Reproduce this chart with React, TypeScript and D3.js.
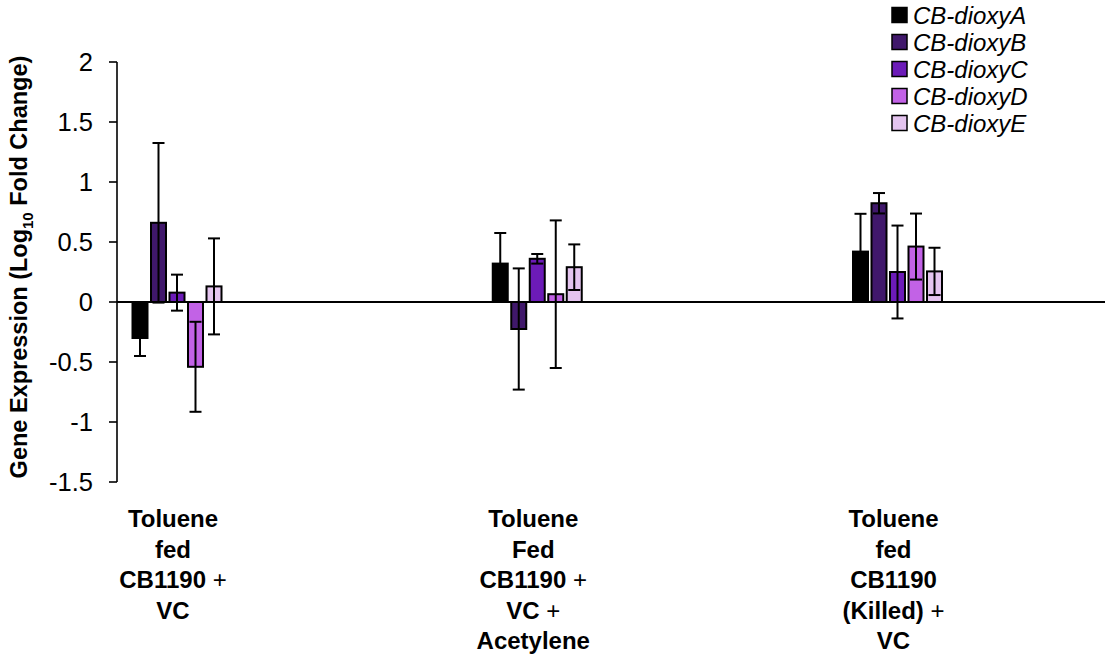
import React from "react";
import * as d3 from "d3";

const categories: string[][] = [
  ["Toluene", "fed", "CB1190 +", "VC"],
  ["Toluene", "Fed", "CB1190 +", "VC +", "Acetylene"],
  ["Toluene", "fed", "CB1190", "(Killed) +", "VC"],
];
const categoryKeys = ["g1", "g2", "g3"];
const seriesNames = ["CB-dioxyA", "CB-dioxyB", "CB-dioxyC", "CB-dioxyD", "CB-dioxyE"];
const seriesColors = ["#000000", "#40186b", "#6c1bb8", "#c262e6", "#e4c4ef"];

const valuesA = [-0.3, 0.32, 0.42];
const valuesB = [0.66, -0.225, 0.823];
const valuesC = [0.078, 0.36, 0.25];
const valuesD = [-0.54, 0.065, 0.462];
const valuesE = [0.13, 0.29, 0.255];

const errA = [0.15, 0.255, 0.315];
const errB = [0.665, 0.505, 0.085];
const errC = [0.15, 0.04, 0.387];
const errD = [0.375, 0.615, 0.275];
const errE = [0.4, 0.19, 0.197];

const yTicks = [-1.5, -1, -0.5, 0, 0.5, 1, 1.5, 2];

const allValues = [valuesA, valuesB, valuesC, valuesD, valuesE];
const allErrors = [errA, errB, errC, errD, errE];

const W = 1109;
const H = 655;
const FONT = "'Liberation Sans', Arial, sans-serif";

export default function App() {
  const y = d3.scaleLinear().domain([-1.5, 2]).range([482, 62]);
  const xg = d3.scalePoint<string>().domain(categoryKeys).range([177, 897.5]);
  const xs = d3
    .scaleBand<string>()
    .domain(seriesNames)
    .range([-46.25, 46.25])
    .paddingInner(3.5 / 18.5)
    .paddingOuter(3.5 / 37);
  const bw = xs.bandwidth();
  const axisX = 117;
  const y0 = y(0);

  return (
    <svg width={W} height={H} style={{ position: "absolute", left: 0, top: 0, background: "#fff" }}>
      <rect x={0} y={0} width={W} height={H} fill="#fff" />
      {/* y axis */}
      <line x1={axisX} x2={axisX} y1={y(2)} y2={y(-1.5)} stroke="#000" strokeWidth={1.6} />
      {yTicks.map((t) => (
        <g key={t}>
          <line x1={axisX - 8} x2={axisX} y1={y(t)} y2={y(t)} stroke="#000" strokeWidth={1.6} />
          <text
            x={93}
            y={y(t)}
            dy="0.36em"
            textAnchor="end"
            fontFamily={FONT}
            fontSize={25.5}
            fill="#000"
          >
            {String(t)}
          </text>
        </g>
      ))}
      {/* y title */}
      <text
        transform={`translate(${27},${267}) rotate(-90)`}
        textAnchor="middle"
        fontFamily={FONT}
        fontSize={23.5}
        fontWeight="bold"
        fill="#000"
      >
        Gene Expression (Log
        <tspan fontSize={15} dy={6}>10</tspan>
        <tspan dy={-6}> Fold Change)</tspan>
      </text>

      {/* bars */}
      {seriesNames.map((s, si) =>
        categoryKeys.map((c, ci) => {
          const v = allValues[si][ci];
          const xx = (xg(c) as number) + (xs(s) as number);
          const top = Math.min(y(v), y0);
          const h = Math.abs(y(v) - y0);
          return (
            <rect
              key={s + c}
              x={xx}
              y={top}
              width={bw}
              height={h}
              fill={seriesColors[si]}
              stroke="#000"
              strokeWidth={2}
            />
          );
        })
      )}
      {/* x axis line */}
      <line x1={axisX} x2={1105} y1={y0} y2={y0} stroke="#000" strokeWidth={2} />
      {/* error bars */}
      {seriesNames.map((s, si) =>
        categoryKeys.map((c, ci) => {
          const v = allValues[si][ci];
          const e = allErrors[si][ci];
          const cx = (xg(c) as number) + (xs(s) as number) + bw / 2;
          const yt = y(v + e);
          const yb = y(v - e);
          return (
            <g key={"e" + s + c} stroke="#000" strokeWidth={2}>
              <line x1={cx} x2={cx} y1={yt} y2={yb} />
              <line x1={cx - 6} x2={cx + 6} y1={yt} y2={yt} />
              <line x1={cx - 6} x2={cx + 6} y1={yb} y2={yb} />
            </g>
          );
        })
      )}
      {/* category labels */}
      {categories.map((lines, ci) => (
        <text
          key={ci}
          textAnchor="middle"
          fontFamily={FONT}
          fontSize={24}
          fontWeight="bold"
          fill="#000"
        >
          {lines.map((ln, li) => {
            const hasPlus = ln.endsWith("+");
            const main = hasPlus ? ln.slice(0, -1) : ln;
            return (
              <tspan key={li} x={(xg(categoryKeys[ci]) as number) - 4} y={527 + li * 30.6}>
                {main}
                {hasPlus ? <tspan fontWeight="normal">+</tspan> : null}
              </tspan>
            );
          })}
        </text>
      ))}
      {/* legend */}
      {seriesNames.map((s, si) => (
        <g key={"l" + s} transform={`translate(892,${15 + si * 27})`}>
          <rect x={0} y={-7.5} width={15} height={15} fill={seriesColors[si]} stroke="#000" strokeWidth={1.5} />
          <text x={21} y={0} dy="0.36em" fontFamily={FONT} fontSize={24} fontStyle="italic" fill="#000">
            {s}
          </text>
        </g>
      ))}
    </svg>
  );
}
